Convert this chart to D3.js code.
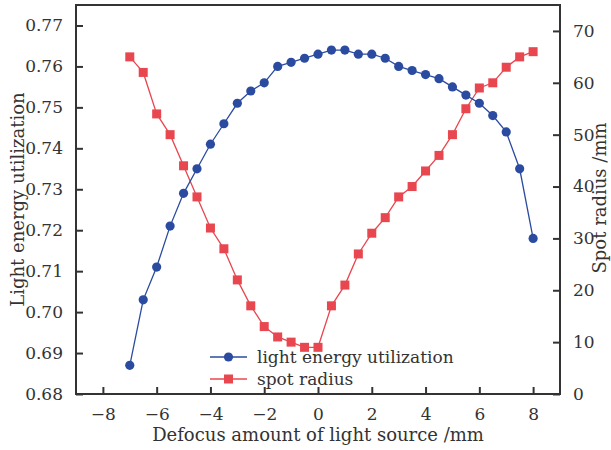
<!DOCTYPE html>
<html>
<head>
<meta charset="utf-8">
<script src="https://cdn.jsdelivr.net/npm/d3@7"></script>
<style>
  body { margin: 0; background: #fff; }
  svg text { font-family: "DejaVu Serif", serif; fill: #333; }
</style>
</head>
<body>
<script>
// defocus positions (mm)
var defocus = [-7, -6.5, -6, -5.5, -5, -4.5, -4, -3.5, -3, -2.5, -2, -1.5, -1, -0.5, 0,
               0.5, 1, 1.5, 2, 2.5, 3, 3.5, 4, 4.5, 5, 5.5, 6, 6.5, 7, 7.5, 8];
var utilization = [0.687, 0.703, 0.711, 0.721, 0.729, 0.735, 0.741, 0.746, 0.751, 0.754, 0.756,
                   0.760, 0.761, 0.762, 0.763, 0.764, 0.764, 0.763, 0.763, 0.762, 0.760, 0.759,
                   0.758, 0.757, 0.755, 0.753, 0.751, 0.748, 0.744, 0.735, 0.718];
var spotRadius = [65, 62, 54, 50, 44, 38, 32, 28, 22, 17, 13, 11, 10, 9, 9,
                  17, 21, 27, 31, 34, 38, 40, 43, 46, 50, 55, 59, 60, 63, 65, 66];
var xTicks = [-8, -6, -4, -2, 0, 2, 4, 6, 8];
var leftTicks = [0.68, 0.69, 0.70, 0.71, 0.72, 0.73, 0.74, 0.75, 0.76, 0.77];
var rightTicks = [0, 10, 20, 30, 40, 50, 60, 70];
var seriesNames = ["light energy utilization", "spot radius"];

var blue = "#2a4b9f", red = "#e8474f", ink = "#333";
var W = 611, H = 450;
var mLeft = 76, mRight = 560, mTop = 5, mBottom = 394;

var svg = d3.select("body").append("svg")
    .attr("width", W)
    .attr("height", H);

var x = d3.scaleLinear().domain([-9, 9]).range([mLeft, mRight]);
var yL = d3.scaleLinear().domain([0.68, 0.775]).range([mBottom, mTop]);
var yR = d3.scaleLinear().domain([0, 75]).range([mBottom, mTop]);

// frame
svg.append("rect")
    .attr("x", mLeft).attr("y", mTop)
    .attr("width", mRight - mLeft).attr("height", mBottom - mTop)
    .attr("fill", "none").attr("stroke", ink).attr("stroke-width", 2);

// axes, ticks pointing inward
function styleAxis(g) {
    g.select(".domain").remove();
    g.selectAll(".tick line").attr("stroke", ink).attr("stroke-width", 2);
    g.selectAll(".tick text").style("font-size", "17px").attr("fill", ink);
}

svg.append("g")
    .attr("transform", "translate(0," + mBottom + ")")
    .call(d3.axisBottom(x).tickValues(xTicks).tickSizeInner(-7).tickSizeOuter(0).tickPadding(14))
    .call(styleAxis);

svg.append("g")
    .attr("transform", "translate(" + mLeft + ",0)")
    .call(d3.axisLeft(yL).tickValues(leftTicks).tickFormat(d3.format(".2f"))
          .tickSizeInner(-7).tickSizeOuter(0).tickPadding(13))
    .call(styleAxis);

svg.append("g")
    .attr("transform", "translate(" + mRight + ",0)")
    .call(d3.axisRight(yR).tickValues(rightTicks).tickSizeInner(-7).tickSizeOuter(0).tickPadding(13))
    .call(styleAxis);

// axis titles
svg.append("text")
    .attr("x", (mLeft + mRight) / 2).attr("y", 441)
    .attr("text-anchor", "middle").style("font-size", "18px")
    .text("Defocus amount of light source /mm");

svg.append("text")
    .attr("transform", "translate(24," + (mTop + mBottom) / 2 + ") rotate(-90)")
    .attr("text-anchor", "middle").style("font-size", "18px")
    .text("Light energy utilization");

svg.append("text")
    .attr("transform", "translate(606,198) rotate(-90)")
    .attr("text-anchor", "middle").style("font-size", "18px")
    .text("Spot radius /mm");

// series
var blueLine = d3.line().x(function(d, i){ return x(defocus[i]); }).y(function(d){ return yL(d); });
var redLine = d3.line().x(function(d, i){ return x(defocus[i]); }).y(function(d){ return yR(d); });

svg.append("path").datum(spotRadius)
    .attr("d", redLine).attr("fill", "none").attr("stroke", red).attr("stroke-width", 1.3);
svg.append("path").datum(utilization)
    .attr("d", blueLine).attr("fill", "none").attr("stroke", blue).attr("stroke-width", 1.3);

svg.selectAll(".sq").data(spotRadius).enter().append("rect")
    .attr("x", function(d, i){ return x(defocus[i]) - 4.5; })
    .attr("y", function(d){ return yR(d) - 4.5; })
    .attr("width", 9).attr("height", 9)
    .attr("fill", red);

svg.selectAll(".dot").data(utilization).enter().append("circle")
    .attr("cx", function(d, i){ return x(defocus[i]); })
    .attr("cy", function(d){ return yL(d); })
    .attr("r", 4.6)
    .attr("fill", blue);

// legend
var legend = svg.append("g").attr("transform", "translate(210,357)");
seriesNames.forEach(function(name, i) {
    var g = legend.append("g").attr("transform", "translate(0," + i * 22 + ")");
    var c = i == 0 ? blue : red;
    g.append("line").attr("x1", 0).attr("x2", 37).attr("y1", 0).attr("y2", 0)
        .attr("stroke", c).attr("stroke-width", 1.3);
    if (i == 0) g.append("circle").attr("cx", 18.5).attr("cy", 0).attr("r", 4.6).attr("fill", c);
    else g.append("rect").attr("x", 14).attr("y", -4.5).attr("width", 9).attr("height", 9).attr("fill", c);
    g.append("text").attr("x", 47).attr("y", 6).style("font-size", "17px").text(name);
});
</script>
</body>
</html>
